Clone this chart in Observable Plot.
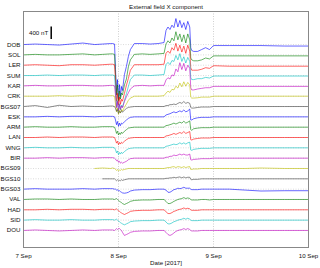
<!DOCTYPE html>
<html><head><meta charset="utf-8">
<script src="https://cdn.jsdelivr.net/npm/d3@7"></script>
<script src="https://cdn.jsdelivr.net/npm/@observablehq/plot@0.6"></script>
<style>body{margin:0;background:#fff}svg{display:block}</style>
</head><body><div id="chart"></div>
<script>
// Station names (top to bottom) and line colours (MATLAB cycle)
const stations = ["DOB","SOL","LER","SUM","KAR","CRK","BGS07","ESK","ARM","LAN","WNG","BIR","BGS09","BGS10","BGS03","VAL","HAD","SID","DOU"];
const colors = ["#0000ff","#008000","#ff0000","#00bfbf","#bf00bf","#bfbf00","#404040"];
// Sample times, hours since 7 Sep 2017 00:00 UT
const hours = [0,3,6,9,12,15,18,20,22,
  22.5,23,23.25,23.5,23.75,24,24.25,24.5,24.75,25,
  25.5,26,26.5,27,28,30,32,34,
  35.5,36,36.5,37,37.5,38,38.5,39,39.5,40,
  40.5,41,41.5,42,42.25,42.5,43,44,45,46,
  47,48,52,56,60,66,72];
// External field X component, nT relative to each station's baseline
const DOB = [0,16,0,-16,16,48,0,16,32,
  32,16,-800,-1600,-1120,-1760,-1280,-1660,-1340,-1470,
  -960,-700,-380,-160,32,32,16,32,
  64,450,560,480,620,540,830,560,770,540,
  700,480,740,560,-100,-190,-220,-220,-160,-100,
  -160,-32,-32,-32,-32,-48,-48];
const SOL = [0,16,0,0,16,32,0,16,32,
  32,16,-640,-1280,-960,-1470,-1150,-1410,-1220,-1280,
  -960,-770,-380,-160,16,32,16,32,
  48,350,450,380,540,450,740,480,670,420,
  640,380,670,480,-100,-160,-190,-190,-160,-100,
  -130,-32,-32,-32,-32,-32,-32];
const LER = [0,16,0,-16,16,16,0,16,32,
  32,16,-500,-1150,-900,-1280,-1020,-1250,-1090,-1150,
  -900,-640,-420,-160,16,16,16,16,
  32,380,450,380,560,480,700,450,640,420,
  610,380,640,450,-80,-160,-160,-160,-130,-80,
  -100,-16,-32,-32,-32,-32,-32];
const SUM = [0,0,16,0,16,16,0,16,16,
  16,0,-450,-1000,-800,-1150,-900,-1100,-950,-1000,
  -800,-580,-350,-130,16,16,0,16,
  32,350,420,350,480,450,640,500,700,450,
  600,400,580,450,-60,-130,-130,-100,-100,-60,
  -80,-16,-16,-16,-16,-16,-16];
const KAR = [0,16,0,0,16,16,0,0,16,
  16,0,-300,-700,-500,-800,-600,-750,-640,-700,
  -500,-350,-220,-100,0,16,0,16,
  16,190,260,220,350,320,540,450,740,520,
  720,480,660,560,-60,-130,-130,-100,-80,-60,
  -60,-16,-16,-16,-16,-16,-16];
const CRK = [0,0,0,16,0,16,0,0,16,
  16,0,-250,-500,-380,-580,-450,-540,-420,-480,
  -350,-250,-130,-60,0,0,0,0,
  16,100,160,120,220,200,320,260,420,300,
  460,320,440,360,-30,-60,-60,-50,-30,-30,
  -30,0,0,0,0,0,0];
const BGS07 = [0,30,-30,40,0,16,0,0,16,
  16,0,-60,-150,-100,-220,-160,-200,-130,-180,
  -120,-60,-30,-16,0,0,0,0,
  0,30,30,60,60,80,60,100,130,100,
  160,100,130,100,-30,-50,-50,-30,-16,-16,
  -16,0,0,0,0,0,0];
const ESK = [0,0,16,0,16,16,0,16,16,
  16,0,-100,-250,-150,-300,-200,-280,-200,-220,
  -160,-100,-50,-16,0,0,0,0,
  0,60,80,100,130,160,130,160,190,160,
  220,160,190,250,-100,-100,-60,-30,-16,-16,
  -16,0,0,0,0,0,0];
const ARM = [0,16,0,0,16,0,0,16,16,
  16,0,-80,-200,-130,-250,-180,-230,-160,-200,
  -130,-80,-30,-16,0,0,0,0,
  0,50,60,80,100,130,100,130,160,130,
  190,130,160,200,-80,-100,-50,-30,-16,-16,
  -16,0,0,0,0,0,0];
const LAN = [0,0,16,0,16,16,0,16,16,
  16,0,-80,-180,-120,-230,-160,-210,-150,-180,
  -120,-70,-30,-16,0,0,0,0,
  0,50,60,80,100,130,100,130,160,130,
  190,130,160,190,-70,-80,-50,-30,-16,-16,
  -16,0,0,0,0,0,0];
const WNG = [0,16,0,0,16,0,0,16,16,
  16,0,-60,-160,-100,-220,-150,-200,-140,-180,
  -120,-70,-30,-16,0,0,0,0,
  0,50,60,80,100,120,100,120,160,120,
  160,120,160,180,-70,-80,-50,-30,-16,-16,
  -16,0,0,0,0,0,0];
const BIR = [0,0,16,0,16,16,0,16,16,
  16,0,-30,-80,-60,-130,-100,-160,-130,-160,
  -130,-100,-50,-16,0,0,0,0,
  0,30,30,60,60,100,80,100,130,100,
  130,100,100,130,-50,-60,-40,-30,-16,-16,
  -16,0,0,0,0,0,0];
const BGS09 = [null,null,null,null,null,null,0,16,0,
  16,0,-30,-60,-30,-80,-50,-60,-30,-50,
  -30,-16,0,0,0,0,0,0,
  0,16,30,30,50,60,30,60,50,30,
  60,30,50,60,-30,-30,-16,-16,0,0,
  0,0,0,0,16,0,0];
const BGS10 = [null,null,null,null,null,null,null,0,0,
  0,0,-30,-60,-30,-60,-50,-60,-30,-50,
  -30,-16,0,0,0,0,0,0,
  0,16,16,30,30,50,30,50,60,30,
  60,30,50,50,-16,-30,-16,-16,0,0,
  0,0,0,0,0,0,0];
const BGS03 = [0,16,0,0,0,16,0,16,16,
  16,0,0,-30,-16,-60,-50,-80,-100,-120,
  -130,-120,-100,-60,-30,-16,-16,0,
  0,-30,-100,-100,-60,-16,0,30,16,30,
  60,30,30,30,0,-16,-16,-16,0,0,
  0,0,0,-30,-60,-50,-50];
const VAL = [0,16,16,0,16,0,0,16,16,
  16,0,16,30,0,-30,-60,-80,-100,-130,
  -160,-130,-100,-60,-30,-16,-16,0,
  0,-60,-130,-130,-100,-60,-30,0,16,30,
  60,30,50,30,0,-16,-16,-16,0,0,
  -16,0,0,0,0,0,0];
const HAD = [0,0,16,0,16,16,0,16,16,
  16,0,16,30,0,-30,-50,-80,-100,-120,
  -150,-120,-90,-50,-30,-16,-16,0,
  0,-60,-120,-120,-90,-50,-30,0,16,30,
  60,30,50,30,0,-16,-16,-16,0,0,
  0,0,0,0,0,0,0];
const SID = [0,16,0,0,16,0,0,16,16,
  16,0,16,30,0,-30,-50,-80,-100,-120,
  -150,-120,-90,-50,-30,-16,-16,0,
  0,-60,-120,-120,-90,-50,-30,0,16,30,
  60,30,60,30,0,-16,-16,-16,0,0,
  0,0,0,0,0,0,0];
const DOU = [0,16,0,-16,0,16,0,16,16,
  16,0,30,60,30,60,60,30,0,-60,
  -160,-130,-100,-60,-30,-16,-16,0,
  0,-60,-130,-160,-130,-80,-30,0,16,30,
  60,30,60,30,0,-16,-16,-16,0,0,
  0,0,0,0,0,0,0];
const series = [DOB,SOL,LER,SUM,KAR,CRK,BGS07,ESK,ARM,LAN,WNG,BIR,BGS09,BGS10,BGS03,VAL,HAD,SID,DOU];
const dayTicks = [7,8,9,10];      // x tick labels (days of Sep 2017)
const gridDays = [8,9];
const title = "External field X component";
const xLabel = "Date [2017]";
const scaleBar = {hour: 7, nT: 400, label: "400 nT"};

const S = 330;                    // offset between station traces, nT
const t0 = Date.UTC(2017, 8, 7);
const toDate = h => new Date(t0 + h * 3600e3);
const dayDate = d => new Date(Date.UTC(2017, 8, d));
series.forEach((s, i) => { if (s.length !== hours.length) console.error(stations[i], s.length); });

const baselines = stations.map((_, i) => -i * S);
const lineMarks = series.map((vals, i) => {
  const rows = [];
  vals.forEach((v, j) => { if (v != null) rows.push({t: toDate(hours[j]), y: baselines[i] + v}); });
  return Plot.line(rows, {x: "t", y: "y", stroke: colors[i % colors.length], strokeWidth: 0.6});
});

const font = "'Liberation Sans', Arial, sans-serif";
const fs = 6.2;
const ink = "#111";
const barBase = 160;
const chart = Plot.plot({
  width: 320, height: 268,
  marginTop: 11, marginBottom: 21, marginLeft: 23, marginRight: 12,
  style: {fontFamily: font, fontSize: fs + "px", color: ink, background: "#fff"},
  x: {type: "utc", domain: [dayDate(7), dayDate(10)]},
  y: {domain: [-19.65 * S, 3.2 * S]},
  marks: [
    Plot.gridX(gridDays.map(dayDate), {stroke: "#bbb", strokeOpacity: 1, strokeDasharray: "1,1.5", strokeWidth: 0.7}),
    Plot.gridY(baselines, {stroke: "#ccc", strokeOpacity: 1, strokeDasharray: "1,1.5", strokeWidth: 0.7}),
    ...lineMarks,
    Plot.frame({stroke: "#888", strokeWidth: 1}),
    Plot.axisY(baselines, {tickSize: 0, tickPadding: 3, label: null, fontSize: fs, fill: ink,
      tickFormat: d => stations[Math.round(-d / S)]}),
    Plot.axisX(dayTicks.map(dayDate), {tickSize: 0, tickPadding: 6, label: null, fontSize: fs, fill: ink,
      tickFormat: d => d3.utcFormat("%-d %b")(d)}),
    Plot.ruleX([scaleBar], {x: d => toDate(d.hour), y1: barBase, y2: d => barBase + d.nT, stroke: "#000", strokeWidth: 1.5}),
    Plot.text([scaleBar], {x: d => toDate(d.hour), y: d => barBase + d.nT / 2, text: "label", textAnchor: "end", dx: -3, fontSize: fs, fill: ink}),
    Plot.text([title], {frameAnchor: "top", dy: -7, fontSize: fs, fill: ink}),
    Plot.text([xLabel], {frameAnchor: "bottom", dy: 17, fontSize: fs, fill: ink})
  ]
});
document.getElementById("chart").appendChild(chart);
</script>
</body></html>
